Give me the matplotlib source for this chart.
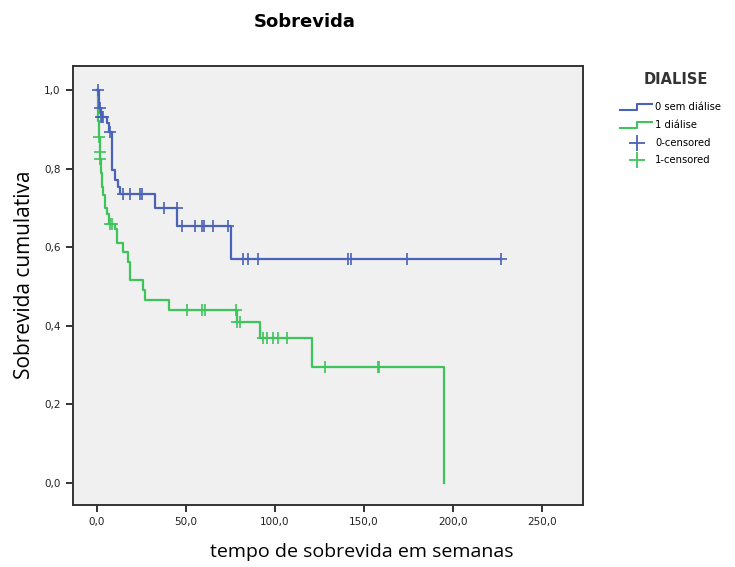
import numpy as np
import matplotlib
matplotlib.use("Agg")
import matplotlib.pyplot as plt
from matplotlib.lines import Line2D

# curvas de Kaplan-Meier (tempo do degrau, sobrevida depois do degrau)
blue_t = [0, 1.2, 2.0, 5.4, 6.5, 8.3, 10.2, 11.8, 13.0, 32.6, 45.0, 75.0, 227.0]
blue_s = [1.0, 0.954, 0.93, 0.916, 0.894, 0.796, 0.77, 0.754, 0.735, 0.70, 0.653, 0.569, 0.569]
blue_cens = [0.7, 1.6, 2.2, 2.8, 3.5, 7.3, 14.6, 18.5, 24.0, 25.0, 37.6, 44.8, 48.0, 55.0,
             59.0, 60.0, 65.0, 73.5, 82.0, 85.0, 90.5, 141.0, 142.5, 174.0, 227.0]

green_t = [0, 0.3, 0.8, 1.0, 1.4, 1.7, 2.2, 2.6, 3.4, 4.5, 5.5, 7.0, 10.0, 11.0, 14.5,
           17.5, 18.5, 26.0, 27.0, 40.6, 78.6, 91.6, 121.0, 195.0]
green_s = [1.0, 0.966, 0.92, 0.88, 0.843, 0.824, 0.79, 0.754, 0.733, 0.70, 0.685, 0.66,
           0.645, 0.61, 0.589, 0.563, 0.516, 0.49, 0.465, 0.44, 0.409, 0.369, 0.295, 0.0]
green_cens = [1.2, 1.5, 1.9, 7.4, 8.2, 50.4, 58.8, 60.5, 78.3, 78.8, 80.3, 93.4, 95.3,
              99.0, 101.9, 106.9, 128.0, 157.6, 158.2]

xticks = [0, 50, 100, 150, 200, 250]
yticks = [0.0, 0.2, 0.4, 0.6, 0.8, 1.0]

BLUE = '#4A62B8'
GREEN = '#3DC45A'


def surv_at(t, s, c):
    t = np.asarray(t)
    s = np.asarray(s)
    idx = np.searchsorted(t, c, side='right') - 1
    return s[idx]


fig = plt.figure(figsize=(7.35, 5.67), dpi=100)
ax = fig.add_axes([73 / 735, 62 / 567, 510 / 735, 439 / 567])
ax.set_facecolor('#F0F0F0')

ax.step(green_t, green_s, where='post', color=GREEN, lw=1.6)
ax.plot(green_cens, surv_at(green_t, green_s, green_cens), '+', color=GREEN,
        ms=8, mew=1.2)
ax.step(blue_t, blue_s, where='post', color=BLUE, lw=1.6)
ax.plot(blue_cens, surv_at(blue_t, blue_s, blue_cens), '+', color=BLUE,
        ms=8, mew=1.2)

ax.set_xlim(-13.5, 273)
ax.set_ylim(-0.056, 1.061)
ax.set_xticks(xticks)
ax.set_xticklabels([f"{v:.1f}".replace('.', ',') for v in xticks])
ax.set_yticks(yticks)
ax.set_yticklabels([f"{v:.1f}".replace('.', ',') for v in yticks])
ax.tick_params(direction='out', length=5, width=1.3, labelsize=7.5, colors='#222222',
               pad=4)
for sp in ax.spines.values():
    sp.set_color('#333333')
    sp.set_linewidth(1.4)

fig.text(305 / 735, 1 - 22 / 567, 'Sobrevida', ha='center', va='center',
         fontsize=13, fontweight='bold', family='DejaVu Sans')
fig.text(362 / 735, 1 - 552 / 567, 'tempo de sobrevida em semanas', ha='center',
         va='center', fontsize=14, family='Open Sans')
fig.text(25 / 735, 1 - 275 / 567, 'Sobrevida cumulativa', ha='center', va='center',
         rotation=90, fontsize=15, family='Open Sans')

# legenda
def fx(x):
    return x / 735


def fy(y):
    return 1 - y / 567


fig.text(fx(676), fy(80), 'DIALISE', ha='center', va='center', fontsize=10.5,
         fontweight='bold', color='#333333')
for y, col, lab in [(107, BLUE, '0 sem diálise'), (125, GREEN, '1 diálise')]:
    fig.add_artist(Line2D([fx(620), fx(637), fx(637), fx(652)],
                          [fy(y + 3), fy(y + 3), fy(y - 3), fy(y - 3)],
                          color=col, lw=1.5))
    fig.text(fx(655), fy(y), lab, ha='left', va='center', fontsize=7.2)
for y, col, lab in [(143, BLUE, '0-censored'), (160, GREEN, '1-censored')]:
    fig.add_artist(Line2D([fx(637)], [fy(y)], marker='+', color=col, ms=11, mew=1.3))
    fig.text(fx(655), fy(y), lab, ha='left', va='center', fontsize=7.2)

fig.savefig('out.png', dpi=100)
